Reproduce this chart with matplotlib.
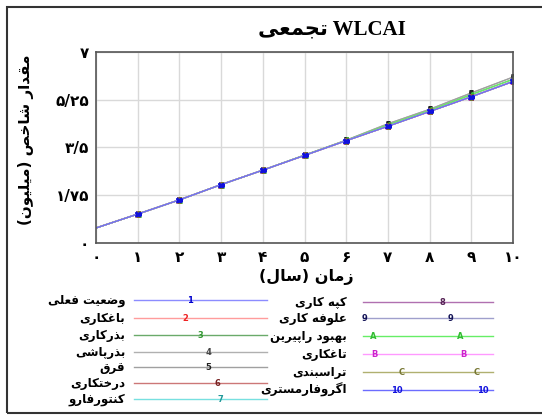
import matplotlib
matplotlib.use("Agg")
import matplotlib.pyplot as plt
from matplotlib.ticker import FuncFormatter
from matplotlib.lines import Line2D
from matplotlib.patches import Rectangle

# ---------- data ----------
years = [0, 1, 2, 3, 4, 5, 6, 7, 8, 9, 10]

base = [0.55, 1.06, 1.58, 2.14, 2.67, 3.21, 3.75, 4.28, 4.82, 5.36, 5.92]
upper = [0.55, 1.06, 1.58, 2.14, 2.67, 3.22, 3.77, 4.37, 4.90, 5.50, 6.08]
mid = [0.55, 1.06, 1.58, 2.14, 2.67, 3.22, 3.76, 4.33, 4.86, 5.44, 6.00]

series_names = ["وضعیت فعلی", "باغکاری", "بذرکاری", "بذرپاشی", "قرق",
                "درختکاری", "کنتورفارو", "کپه کاری", "علوفه کاری",
                "بهبود راپیرین", "تاغکاری", "تراسبندی", "اگروفارمستری"]
series_values = [base, base, mid, upper, upper, base, base,
                 base, base, mid, base, base, base]
marker_labels = ["1", "2", "3", "4", "5", "6", "7", "8", "9",
                 "A", "B", "C", "10"]
line_colors = ["#8c8cff", "#ff9c9c", "#6aaa6a", "#b0b0b0", "#a0a0a0",
               "#cc7777", "#77e0e0", "#b070b0", "#9f9fcc", "#66ee66",
               "#ff99ff", "#b0b070", "#6c6cff"]
marker_colors = ["#0000cc", "#ee2222", "#339933", "#444444", "#222222",
                 "#772222", "#229999", "#552255", "#111155", "#33bb33",
                 "#cc22cc", "#777733", "#1111dd"]

yticks = [0, 1.75, 3.5, 5.25, 7]
xticks = years

# ---------- simple persian shaping (matplotlib has no bidi) ----------
FORMS = {
    'ا': (0xFE8D, 0xFE8E, None, None), 'آ': (0xFE81, 0xFE82, None, None),
    'ب': (0xFE8F, 0xFE90, 0xFE91, 0xFE92), 'پ': (0xFB56, 0xFB57, 0xFB58, 0xFB59),
    'ت': (0xFE95, 0xFE96, 0xFE97, 0xFE98), 'ث': (0xFE99, 0xFE9A, 0xFE9B, 0xFE9C),
    'ج': (0xFE9D, 0xFE9E, 0xFE9F, 0xFEA0), 'چ': (0xFB7A, 0xFB7B, 0xFB7C, 0xFB7D),
    'ح': (0xFEA1, 0xFEA2, 0xFEA3, 0xFEA4), 'خ': (0xFEA5, 0xFEA6, 0xFEA7, 0xFEA8),
    'د': (0xFEA9, 0xFEAA, None, None), 'ذ': (0xFEAB, 0xFEAC, None, None),
    'ر': (0xFEAD, 0xFEAE, None, None), 'ز': (0xFEAF, 0xFEB0, None, None),
    'ژ': (0xFB8A, 0xFB8B, None, None),
    'س': (0xFEB1, 0xFEB2, 0xFEB3, 0xFEB4), 'ش': (0xFEB5, 0xFEB6, 0xFEB7, 0xFEB8),
    'ص': (0xFEB9, 0xFEBA, 0xFEBB, 0xFEBC), 'ض': (0xFEBD, 0xFEBE, 0xFEBF, 0xFEC0),
    'ط': (0xFEC1, 0xFEC2, 0xFEC3, 0xFEC4), 'ظ': (0xFEC5, 0xFEC6, 0xFEC7, 0xFEC8),
    'ع': (0xFEC9, 0xFECA, 0xFECB, 0xFECC), 'غ': (0xFECD, 0xFECE, 0xFECF, 0xFED0),
    'ف': (0xFED1, 0xFED2, 0xFED3, 0xFED4), 'ق': (0xFED5, 0xFED6, 0xFED7, 0xFED8),
    'ک': (0xFB8E, 0xFB8F, 0xFB90, 0xFB91), 'گ': (0xFB92, 0xFB93, 0xFB94, 0xFB95),
    'ل': (0xFEDD, 0xFEDE, 0xFEDF, 0xFEE0), 'م': (0xFEE1, 0xFEE2, 0xFEE3, 0xFEE4),
    'ن': (0xFEE5, 0xFEE6, 0xFEE7, 0xFEE8), 'و': (0xFEED, 0xFEEE, None, None),
    'ه': (0xFEE9, 0xFEEA, 0xFEEB, 0xFEEC), 'ی': (0xFBFC, 0xFBFD, 0xFBFE, 0xFBFF),
}
MIRROR = {'(': ')', ')': '('}


def fa(text):
    out = []
    for i, c in enumerate(text):
        if c not in FORMS:
            out.append(MIRROR.get(c, c))
            continue
        prev = text[i - 1] if i > 0 else None
        nxt = text[i + 1] if i + 1 < len(text) else None
        iso, fin, ini, med = FORMS[c]
        jp = prev in FORMS and FORMS[prev][2] is not None
        jn = nxt in FORMS and ini is not None
        if jp and jn:
            code = med
        elif jp:
            code = fin
        elif jn:
            code = ini
        else:
            code = iso
        out.append(chr(code))
    return "".join(reversed(out))


FA_DIGITS = str.maketrans("0123456789.", "۰۱۲۳۴۵۶۷۸۹/")


def fa_num(v, pos=None):
    return f"{v:g}".translate(FA_DIGITS)


plt.rcParams['font.family'] = ['DejaVu Sans']
W, H = 542, 415


def px(x, y):
    return x / W, 1 - y / H


fig = plt.figure(figsize=(W / 100, H / 100), dpi=100)
ax = fig.add_axes([96 / W, 1 - 243 / H, 417 / W, 191 / H])

for name, vals, mk, lc, mc in zip(series_names, series_values, marker_labels,
                                  line_colors, marker_colors):
    ax.plot(years, vals, color=lc, linewidth=0.9,
            marker=f"${mk}$", markersize=4, markevery=list(range(1, 11)),
            markeredgecolor=mc, markerfacecolor=mc)

ax.set_xlim(0, 10)
ax.set_ylim(0, 7)
ax.set_xticks(xticks)
ax.set_yticks(yticks)
ax.xaxis.set_major_formatter(FuncFormatter(fa_num))
ax.yaxis.set_major_formatter(FuncFormatter(fa_num))
ax.tick_params(length=0, labelsize=11)
ax.tick_params(axis='x', pad=5)
ax.tick_params(axis='y', pad=5)
for lab in ax.get_xticklabels() + ax.get_yticklabels():
    lab.set_fontweight('bold')
ax.grid(True, color="#d9d9d9", linewidth=1)
for sp in ax.spines.values():
    sp.set_color("#555555")
    sp.set_linewidth(1.2)

fig.text(*px(332, 29), fa("تجمعی") + " WLCAI", ha='center', va='center',
         fontsize=15, fontweight='bold',
         family=['Liberation Serif', 'DejaVu Sans'])
fig.text(*px(26, 140), fa("مقدار شاخص (میلیون)"), rotation=90,
         ha='center', va='center', fontsize=11, fontweight='bold')
fig.text(*px(306, 277), fa("زمان (سال)"), ha='center', va='center',
         fontsize=11.5, fontweight='bold')

# ---------- legend drawn by hand (two columns, labels on the left) ----------
rows_left = [300, 318, 335, 352, 367, 383, 399]
rows_right = [302, 318, 336, 354, 372, 390]
mk_left = [[190], [185], [200], [208], [208], [217], [220]]
mk_right = [[442], [364, 450], [373, 460], [374, 463], [402, 477], [397, 483]]

entries = []
for i, y in enumerate(rows_left):
    entries.append((i, y, 125, 134, 267, mk_left[i]))
for j, y in enumerate(rows_right):
    entries.append((7 + j, y, 347, 363, 493, mk_right[j]))

for i, y, lab_x, x0, x1, mks in entries:
    fig.text(*px(lab_x, y), fa(series_names[i]), ha='right', va='center',
             fontsize=8.5, fontweight='bold')
    fig.add_artist(Line2D([x0 / W, x1 / W], [1 - y / H, 1 - y / H],
                          color=line_colors[i], linewidth=1.0,
                          transform=fig.transFigure))
    for mx in mks:
        fig.text(*px(mx, y), marker_labels[i], ha='center', va='center',
                 fontsize=6, fontweight='bold', color=marker_colors[i])

# outer frame
fig.add_artist(Rectangle((7 / W, 1 - 413 / H), 540 / W, 406 / H,
                         fill=False, edgecolor='#333333', linewidth=1.5,
                         transform=fig.transFigure))

fig.savefig("out.png", dpi=100)
